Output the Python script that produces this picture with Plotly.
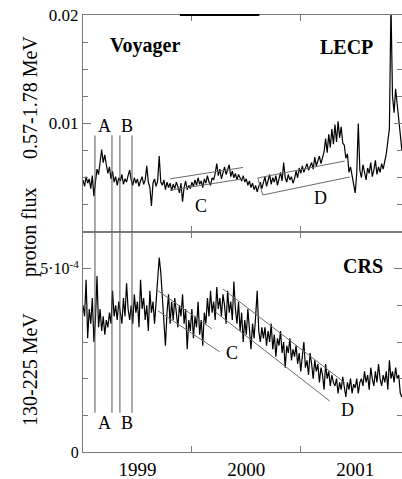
import numpy as np
import plotly.graph_objects as go

# ---------------- data ----------------
# time grid: ~5-day samples starting 1999.0 (70 samples per year)
samples_per_year = 70
start_year = 1999.0

# LECP proton flux 0.57-1.78 MeV, in units of 1e-3
lecp_e3 = [
    4.8, 4.2, 5.1, 4.5, 4.9, 4.0, 5.2,
    3.3, 4.6,
    5.8, 5.3, 6.6,
    7.6, 6.4, 7.1,
    6.2, 5.4, 6.0, 4.9, 5.6,
    4.6, 5.1, 4.3, 5.0, 4.7, 5.3, 4.4, 4.9, 4.6, 5.2, 5.7,
    4.8, 4.3, 5.0, 4.5, 4.9, 4.2, 4.7, 5.1, 4.4, 4.8, 6.1,
    4.6, 4.1, 2.4, 4.5, 4.9, 4.2, 4.7, 7.0, 4.6,
    4.3, 4.8, 3.9, 4.6, 4.1, 4.5, 3.8, 4.4, 4.0, 4.6, 4.2, 3.6, 4.5, 2.8, 4.1, 4.7, 3.9, 4.3, 4.0,
    4.6, 4.2, 4.8, 4.3, 5.0, 4.4, 4.7, 4.1, 4.9, 4.5, 5.2, 4.6, 4.3, 5.0, 4.8,
    5.4, 6.3, 5.2, 5.8, 4.9, 5.5, 6.0, 5.3, 5.7, 6.2, 5.1, 5.6, 5.0, 5.4, 4.8, 5.3, 5.0, 4.7, 5.2,
    4.6, 4.9, 4.3, 4.7, 4.1, 4.5, 3.9, 4.3, 3.7, 4.2, 4.6, 4.0,
    4.5, 5.1, 4.2, 4.8, 5.3, 4.4, 5.0, 4.6, 5.2, 4.3, 4.9, 5.5, 4.7, 6.4, 5.0, 4.6, 5.3, 4.8, 5.1, 4.5, 4.9,
    5.6, 5.0, 5.9, 5.4, 6.1, 5.5, 5.9, 6.3, 5.7, 6.0,
    6.4, 5.8, 6.9, 6.1, 6.6, 7.0, 6.3, 6.8,
    7.4, 8.6, 7.3, 9.0, 7.8, 9.5, 8.1, 9.9, 8.3, 10.2, 8.7, 9.7, 8.2,
    8.0, 6.8, 7.2, 5.5, 6.0,
    5.2, 4.6, 3.6, 5.4, 10.0, 5.7, 5.0, 6.2, 5.3, 4.8, 5.9, 5.4, 6.4, 5.1, 5.7, 6.6, 5.3, 6.0,
    5.5, 6.3, 5.8, 6.5,
    7.2, 8.4, 9.5,
    21.0,
    12.5, 11.0, 13.2, 11.8, 10.6,
    9.0, 7.5,
]

# CRS proton flux 130-225 MeV, in units of 1e-4
crs_e4 = [
    4.0, 3.7, 4.7, 3.1, 3.9, 3.5, 4.2,
    3.0, 3.6, 4.8, 3.4, 3.9,
    3.3, 3.7, 3.2, 3.6, 3.4, 3.8,
    3.5, 4.4, 3.7, 4.0, 3.6, 4.1, 3.8, 3.5, 4.2, 3.7, 4.6, 3.9, 3.6,
    4.0, 3.5, 4.3, 3.8, 4.1, 3.4, 4.7, 3.9, 4.2, 3.6, 4.0, 3.3, 4.4, 3.8, 4.1, 3.5, 4.2,
    4.8, 5.3, 4.9,
    4.2, 3.6, 2.9, 3.8, 4.3, 3.5,
    4.1, 3.6, 4.2, 3.8, 3.4, 4.0, 3.7, 4.3, 3.5, 3.9, 2.8, 3.6,
    3.3, 3.9, 3.1, 3.7, 3.4, 4.1, 3.2, 3.6, 2.9, 3.8,
    3.5, 4.2, 3.7, 4.4, 3.8, 4.1, 3.6, 4.5, 3.9, 4.2, 3.7, 4.3, 4.0, 3.5, 4.4, 3.8, 4.1, 3.6, 4.65,
    3.9, 3.5, 4.1, 3.3, 3.8, 3.0, 3.6, 3.2, 3.9, 3.4, 2.8, 3.5, 3.1, 3.7, 4.4, 3.3, 3.0, 3.4,
    3.1, 3.4, 2.9, 3.3, 3.0, 3.5, 2.8, 3.2, 2.6, 3.1, 2.9, 3.3, 2.7, 3.0, 2.3, 2.9, 2.7, 3.1, 2.5, 2.8, 2.6,
    2.9, 2.4, 2.7, 2.2, 2.6, 3.0, 2.3, 2.5, 2.1, 2.7, 2.4, 2.0, 2.5,
    2.2, 2.4, 1.9, 2.3, 2.1, 1.7, 2.4, 2.0, 2.2, 1.8, 2.1, 1.9,
    1.8, 2.0, 1.6, 1.9, 1.7, 2.05, 1.8, 1.5, 1.9, 1.7, 2.0, 1.6, 1.85, 1.75, 2.0, 1.6, 1.9,
    2.0, 1.8, 2.2, 1.9, 2.1, 1.7, 2.3, 2.0, 1.8, 2.2, 1.9, 2.4, 2.0, 1.8, 2.1, 1.9, 2.2, 1.7, 2.5, 2.0,
    2.2, 1.9, 2.3, 2.0, 2.1, 1.6, 1.5,
]

# event markers A, B (two lines each)
event_dates = [1999.11, 1999.266, 1999.339, 1999.45]
event_top_lecp = 0.0089
event_bottom_crs = 1.07e-4

# trend bands (start/end years and flux values)
lecp_C_x = [1999.80, 2000.47]
lecp_C_upper = [0.0049, 0.00595]
lecp_C_lower = [0.00385, 0.0049]
lecp_D_upper_x = [2001.404, 2000.606]
lecp_D_upper = [0.00654, 0.00498]
lecp_D_lower_x = [2000.651, 2001.45]
lecp_D_lower = [0.00341, 0.00507]

crs_C_upper_x = [1999.688, 2000.183]
crs_C_upper = [4.40e-4, 3.36e-4]
crs_C_lower_x = [1999.688, 2000.257]
crs_C_lower = [3.85e-4, 2.73e-4]
crs_D_upper_x = [2000.284, 2001.404]
crs_D_upper = [4.45e-4, 1.89e-4]
crs_D_lower_x = [2000.211, 2001.266]
crs_D_lower = [3.83e-4, 1.39e-4]

year_ticks = [2000, 2001]
year_label_pos = [1999.5, 2000.5, 2001.5]
year_labels = ["1999", "2000", "2001"]

# ---------------- figure ----------------
t_lecp = start_year + np.arange(len(lecp_e3)) / samples_per_year
t_crs = start_year + np.arange(len(crs_e4)) / samples_per_year
lecp = np.array(lecp_e3) * 1e-3
crs = np.array(crs_e4) * 1e-4

SERIF = "Liberation Serif, Times New Roman, serif"
AX = "#7a7a7a"
TREND = "#6a6a6a"

fig = go.Figure()

fig.add_trace(go.Scatter(x=t_lecp, y=lecp, mode="lines", xaxis="x2", yaxis="y2",
                         line=dict(color="black", width=1.2), showlegend=False))
fig.add_trace(go.Scatter(x=t_crs, y=crs, mode="lines", xaxis="x", yaxis="y",
                         line=dict(color="black", width=1.2), showlegend=False))

ex_top, ey_top, ex_bot, ey_bot = [], [], [], []
for d in event_dates:
    ex_top += [d, d, None]
    ey_top += [0, event_top_lecp, None]
    ex_bot += [d, d, None]
    ey_bot += [event_bottom_crs, 6e-4, None]
fig.add_trace(go.Scatter(x=ex_top, y=ey_top, mode="lines", xaxis="x2", yaxis="y2",
                         line=dict(color="#555", width=1), showlegend=False))
fig.add_trace(go.Scatter(x=ex_bot, y=ey_bot, mode="lines", xaxis="x", yaxis="y",
                         line=dict(color="#555", width=1), showlegend=False))

fig.add_trace(go.Scatter(x=lecp_C_x + [None] + lecp_C_x,
                         y=lecp_C_upper + [None] + lecp_C_lower,
                         mode="lines", xaxis="x2", yaxis="y2",
                         line=dict(color=TREND, width=1), showlegend=False))
fig.add_trace(go.Scatter(x=lecp_D_upper_x + lecp_D_lower_x,
                         y=lecp_D_upper + lecp_D_lower,
                         mode="lines", xaxis="x2", yaxis="y2",
                         line=dict(color=TREND, width=1), showlegend=False))
fig.add_trace(go.Scatter(x=crs_C_upper_x + [None] + crs_C_lower_x,
                         y=crs_C_upper + [None] + crs_C_lower,
                         mode="lines", xaxis="x", yaxis="y",
                         line=dict(color=TREND, width=1), showlegend=False))
fig.add_trace(go.Scatter(x=crs_D_upper_x + [None] + crs_D_lower_x,
                         y=crs_D_upper + [None] + crs_D_lower,
                         mode="lines", xaxis="x", yaxis="y",
                         line=dict(color=TREND, width=1), showlegend=False))

xr = [1999.0, 2001.93]
split = 220 / 437

xcommon = dict(range=xr, showline=True, linecolor=AX, linewidth=1, mirror="ticks",
               tickmode="array", tickvals=year_label_pos, ticktext=year_labels,
               ticks="", showgrid=False, zeroline=False, automargin=False,
               minor=dict(tickmode="array", tickvals=year_ticks, ticks="inside",
                          ticklen=6, tickcolor=AX),
               tickfont=dict(family=SERIF, size=19, color="black"))

fig.update_layout(
    width=402, height=479,
    margin=dict(l=83, r=0, t=15, b=27),
    paper_bgcolor="white", plot_bgcolor="white",
    xaxis=dict(**xcommon, anchor="y", domain=[0, 1]),
    xaxis2=dict(**xcommon, anchor="y2", domain=[0, 1], matches="x", showticklabels=False),
    yaxis=dict(domain=[0, split], range=[0, 6e-4], anchor="x", automargin=False,
               showline=True, linecolor=AX, linewidth=1, mirror="ticks",
               tickmode="array", tickvals=[0, 5e-4],
               ticktext=["0", "5·10<sup>-4</sup>"],
               ticks="inside", ticklen=8, tickcolor=AX,
               minor=dict(tickmode="array", tickvals=[1e-4, 2e-4, 3e-4, 4e-4],
                          ticks="inside", ticklen=5, tickcolor=AX),
               showgrid=False, zeroline=False,
               tickfont=dict(family=SERIF, size=16, color="black")),
    yaxis2=dict(domain=[split, 1], range=[0, 0.02], anchor="x2", automargin=False,
                showline=True, linecolor=AX, linewidth=1, mirror="ticks",
                tickmode="array", tickvals=[0.01, 0.02], ticktext=["0.01", "0.02"],
                ticks="inside", ticklen=8, tickcolor=AX,
                minor=dict(tickmode="array",
                           tickvals=[0.0025, 0.005, 0.0075, 0.0125, 0.015, 0.0175],
                           ticks="inside", ticklen=5, tickcolor=AX),
                showgrid=False, zeroline=False,
                tickfont=dict(family=SERIF, size=17, color="black")),
)

fig.add_shape(type="line", xref="x2", yref="paper", x0=1999.89, x1=2000.62, y0=1, y1=1,
              line=dict(color="black", width=2))

ann = []
def txt(text, x, y, xref, yref, size=18, bold=False, angle=0):
    ann.append(dict(text=("<b>%s</b>" % text) if bold else text, x=x, y=y, xref=xref, yref=yref,
                    showarrow=False, xanchor="center", yanchor="middle", textangle=angle,
                    font=dict(family=SERIF, size=size, color="black")))

txt("Voyager", (145 - 83) / 319, (452 - 45) / 437, "paper", "paper", size=20, bold=True)
txt("LECP", (346 - 83) / 319, (452 - 47) / 437, "paper", "paper", size=20, bold=True)
txt("CRS", (363 - 83) / 319, (452 - 266) / 437, "paper", "paper", size=20, bold=True)

txt("0.57-1.78 MeV", (30 - 83) / 319, (452 - 98) / 437, "paper", "paper", size=20, angle=-90)
txt("proton flux", (30 - 83) / 319, (452 - 233) / 437, "paper", "paper", size=20, angle=-90)
txt("130-225 MeV", (30 - 83) / 319, (452 - 370) / 437, "paper", "paper", size=20, angle=-90)

txt("A", 1999.193, 0.00977, "x2", "y2")
txt("B", 1999.404, 0.00977, "x2", "y2")
txt("C", 2000.083, 0.0024, "x2", "y2")
txt("D", 2001.183, 0.00313, "x2", "y2")
txt("A", 1999.193, 0.79e-4, "x", "y")
txt("B", 1999.404, 0.79e-4, "x", "y")
txt("C", 2000.367, 2.70e-4, "x", "y")
txt("D", 2001.431, 1.15e-4, "x", "y")

fig.update_layout(annotations=ann)
fig.write_html("out.html", config={"displayModeBar": False},
               post_script="document.body.style.margin='0';document.body.style.overflow='hidden';")
